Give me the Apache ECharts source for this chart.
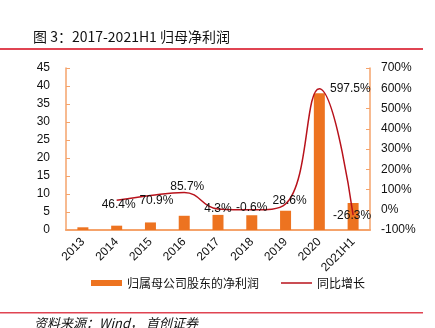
<!DOCTYPE html>
<html><head><meta charset="utf-8">
<script src="https://cdn.jsdelivr.net/npm/echarts@6/dist/echarts.min.js"></script>
<style>html,body{margin:0;padding:0;background:#fff}#c{width:435px;height:328px}</style>
</head><body><div id="c"></div>
<script>
var categories = ['2013','2014','2015','2016','2017','2018','2019','2020','2021H1'];
var profit = [0.75, 1.2, 2.1, 3.95, 4.2, 4.1, 5.35, 38.0, 7.5];
var growth = [null, 46.4, 70.9, 85.7, 4.3, -0.6, 28.6, 597.5, -26.3];
var growthLabels = ['', '46.4%', '70.9%', '85.7%', '4.3%', '-0.6%', '28.6%', '597.5%', '-26.3%'];
var leftTicks = [0,5,10,15,20,25,30,35,40,45];
var rightTicks = ['-100%','0%','100%','200%','300%','400%','500%','600%','700%'];

var labelOffsets = [null,[2,4],[6,5],[3,-6],[0,0],[0,-2],[4,-3],[31,0],[-1,1]];
var axisColor = '#f5a36b';
var chart = echarts.init(document.getElementById('c'), null, {renderer:'canvas'});
var font = 'Liberation Sans, Arial, sans-serif';
chart.setOption({
  animation:false,
  grid:{left:66,right:65,top:68,bottom:98},
  title:{text:'图 3：2017-2021H1 归母净利润',left:28,top:25,textStyle:{fontSize:14,fontWeight:'normal',color:'#111',fontFamily:'Noto Sans CJK SC'}},
  graphic:[
    {type:'rect',shape:{x:0,y:48,width:423,height:2},style:{fill:'#e04452'}},
    {type:'rect',shape:{x:0,y:312,width:423,height:1.5},style:{fill:'#e04452'}},
    {type:'text',x:34,y:317,style:{text:'资料来源：Wind， 首创证券',font:'italic 13px "Noto Sans CJK SC"',fill:'#111'}}
  ],
  legend:{left:86,top:272,itemWidth:31,itemHeight:6,itemGap:22,
    textStyle:{fontSize:12,color:'#111',fontFamily:'Noto Sans CJK SC'},
    data:[{name:'归属母公司股东的净利润',icon:'rect'},{name:'同比增长',icon:'path://M0 0 H31 V1.5 H0 Z'}]},
  xAxis:{type:'category',data:categories,
    axisLine:{lineStyle:{color:axisColor,width:2}},axisTick:{show:false},
    axisLabel:{rotate:45,fontSize:12,color:'#111',fontFamily:font,margin:10,interval:0}},
  yAxis:[
    {type:'value',min:0,max:45,interval:5,splitLine:{show:false},
     axisLine:{show:true,lineStyle:{color:axisColor,width:1.5}},
     axisTick:{show:true,inside:true,length:4,lineStyle:{color:axisColor}},
     axisLabel:{fontSize:12,color:'#111',fontFamily:font,margin:16,
       formatter:function(v){return leftTicks.indexOf(v)>=0?String(v):'';}}},
    {type:'value',min:-100,max:700,interval:100,splitLine:{show:false},
     axisLine:{show:true,lineStyle:{color:axisColor,width:1.5}},
     axisTick:{show:true,inside:true,length:4,lineStyle:{color:axisColor}},
     axisLabel:{fontSize:12,color:'#111',fontFamily:font,margin:11,
       formatter:function(v){return rightTicks[Math.round((v+100)/100)];}}}
  ],
  series:[
    {name:'归属母公司股东的净利润',type:'bar',data:profit,barWidth:11,itemStyle:{color:'#ed7320'}},
    {name:'同比增长',type:'line',yAxisIndex:1,smooth:0.45,symbol:'circle',symbolSize:0.01,
     lineStyle:{color:'#b8121b',width:1.5},itemStyle:{color:'#b8121b'},
     data:growth.map(function(v,i){
       if(v===null) return null;
       return {value:v,label:{show:true,position:'inside',offset:labelOffsets[i],
         formatter:growthLabels[i],fontSize:12,color:'#111',fontFamily:font}};
     })}
  ]
});
</script></body></html>
